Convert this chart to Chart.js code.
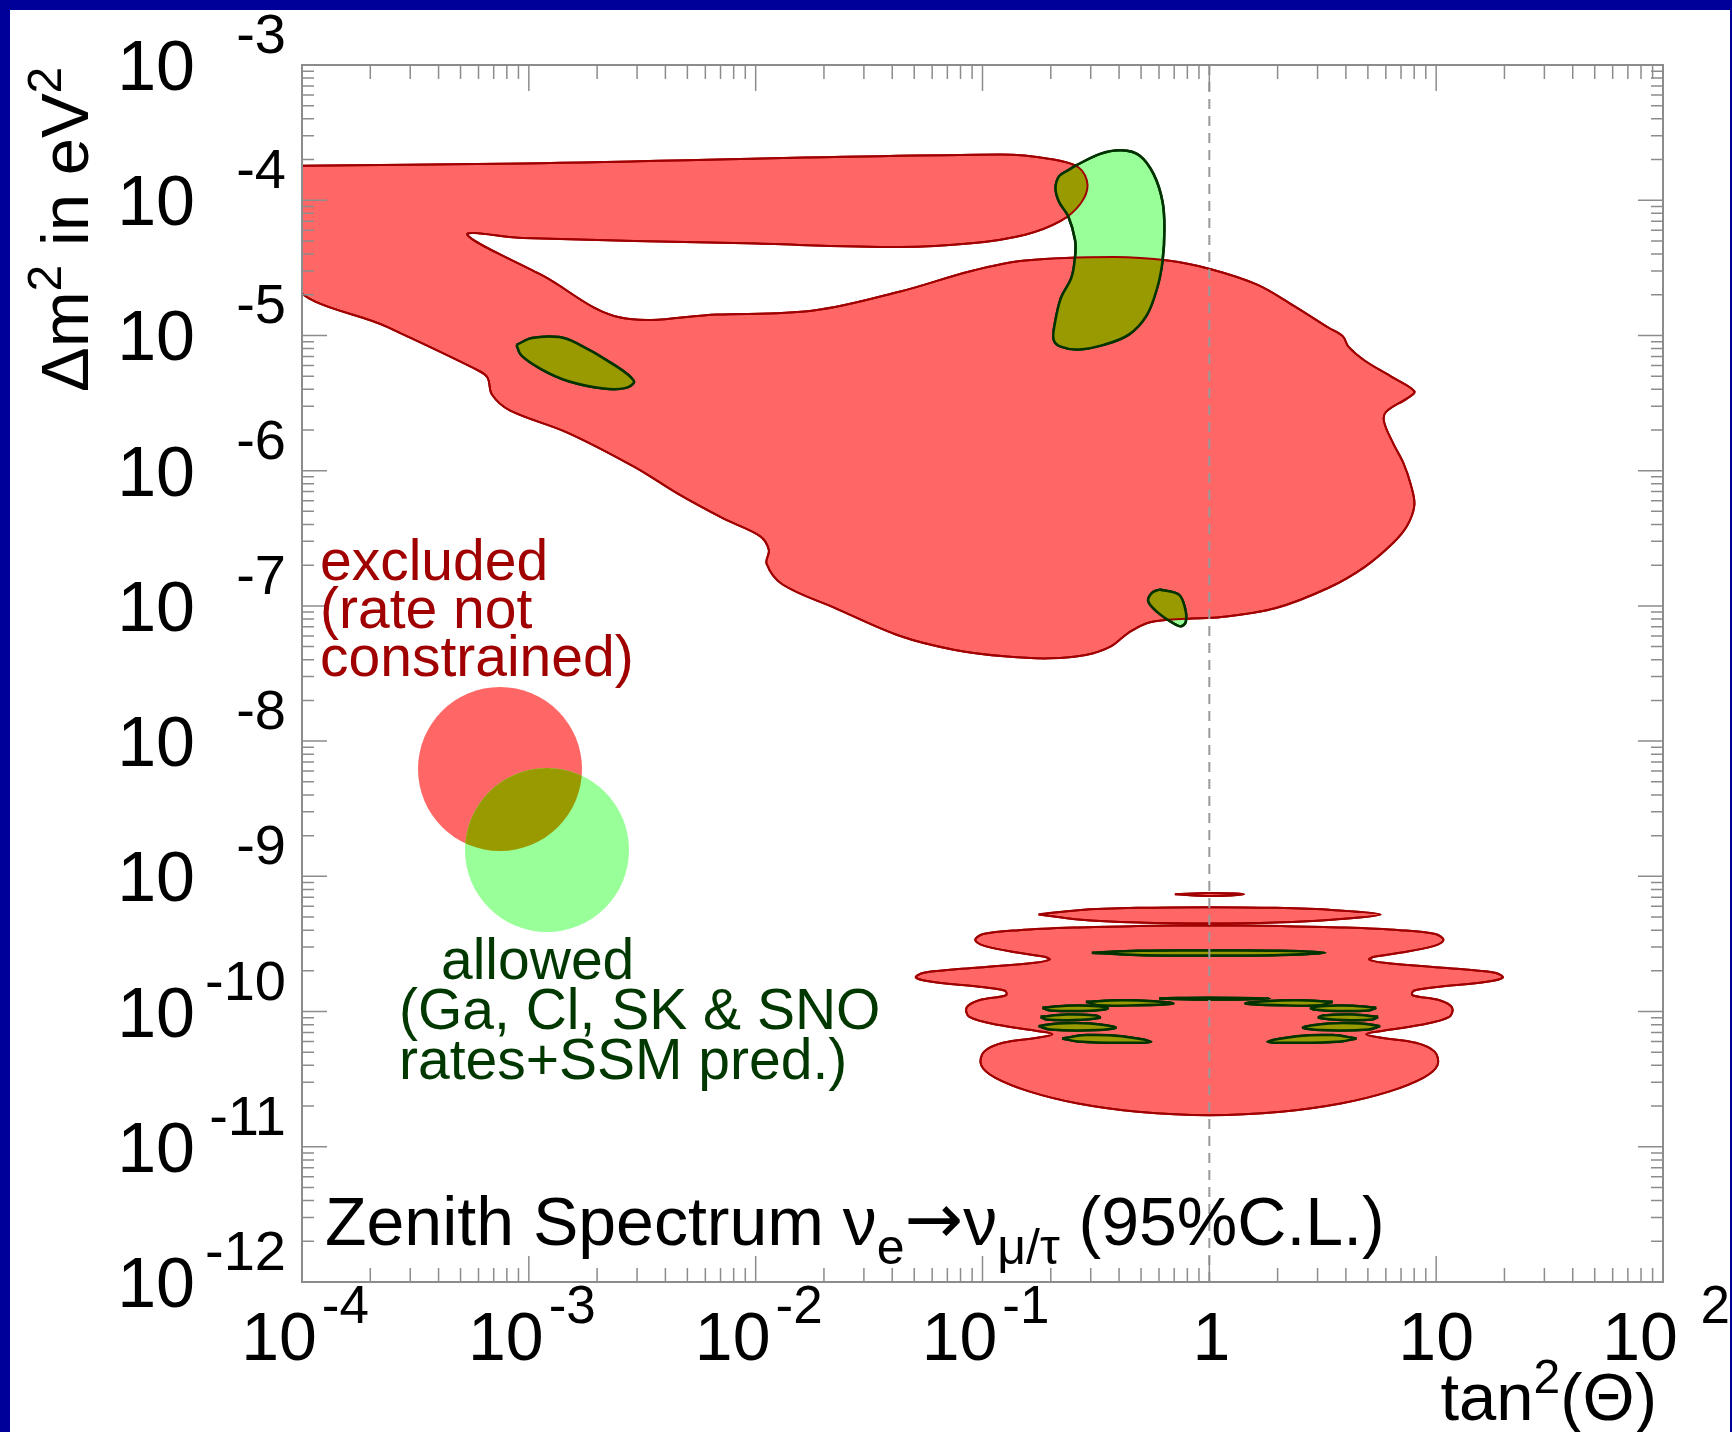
<!DOCTYPE html>
<html>
<head>
<meta charset="utf-8">
<script src="https://cdn.jsdelivr.net/npm/chart.js@4.4.1/dist/chart.umd.min.js"></script>
<style>
  html, body { margin: 0; padding: 0; background: #000099; }
  #wrap { position: absolute; left: 0; top: 0; width: 1732px; height: 1432px; }
</style>
</head>
<body>
<div id="wrap"><canvas id="c" width="1732" height="1432"></canvas></div>
<script>
/* ===== Data (log10 tan^2, log10 dm^2) ===== */

const xDecades = [-4, -3, -2, -1, 0, 1, 2];
const yDecades = [-12, -11, -10, -9, -8, -7, -6, -5, -4, -3];
const xTickText = [['10', '-4'], ['10', '-3'], ['10', '-2'], ['10', '-1'], ['1', ''], ['10', ''], ['10', '2']];
const yTickText = ['-12', '-11', '-10', '-9', '-8', '-7', '-6', '-5', '-4', '-3'];

// excluded (red) contours
const exclMain = [
  [-4.05,-3.746],[-3.026,-3.728],[-0.922,-3.662],[-0.702,-3.695],[-0.576,-3.758],[-0.537,-3.886],
  [-0.568,-4.026],[-0.655,-4.153],[-0.812,-4.255],[-1.049,-4.319],[-1.363,-4.346],[-2.042,-4.319],
  [-3.026,-4.280],[-3.271,-4.255],[-2.936,-4.560],[-2.601,-4.866],[-2.170,-4.845],[-1.745,-4.816],
  [-1.363,-4.675],[-1.049,-4.523],[-0.812,-4.446],[-0.420,-4.420],[-0.182,-4.446],[0.007,-4.510],
  [0.211,-4.624],[0.369,-4.777],[0.526,-4.943],[0.589,-5.007],[0.613,-5.083],[0.684,-5.185],
  [0.810,-5.312],[0.904,-5.414],[0.872,-5.465],[0.778,-5.567],[0.771,-5.643],[0.810,-5.796],
  [0.857,-5.949],[0.888,-6.102],[0.904,-6.254],[0.872,-6.408],[0.810,-6.535],[0.684,-6.713],
  [0.526,-6.866],[0.290,-7.018],[0.054,-7.083],[-0.104,-7.095],[-0.261,-7.121],[-0.355,-7.197],
  [-0.434,-7.299],[-0.545,-7.363],[-0.702,-7.388],[-0.892,-7.375],[-1.127,-7.324],[-1.363,-7.223],
  [-1.647,-7.018],[-1.883,-6.840],[-1.952,-6.688],[-1.942,-6.586],[-1.981,-6.484],[-2.139,-6.357],
  [-2.336,-6.178],[-2.533,-5.974],[-2.828,-5.720],[-3.084,-5.554],[-3.162,-5.439],[-3.182,-5.312],
  [-3.221,-5.261],[-3.620,-4.940],[-4.050,-4.600],[-4.05,-3.746]
];
const exclSliver = [[-0.152,-9.133],[0,-9.124],[0.153,-9.133],[0,-9.146],[-0.152,-9.133]];
const exclBand = [
  [-0.753,-9.282],[-0.579,-9.250],[-0.317,-9.233],[0,-9.228],[0.293,-9.233],[0.554,-9.250],
  [0.755,-9.282],[0.554,-9.319],[0.293,-9.341],[0,-9.348],[-0.317,-9.341],[-0.579,-9.319],[-0.753,-9.282]
];
const exclWavy = [
  [0,-9.361],[-0.317,-9.368],[-0.579,-9.378],[-0.840,-9.398],[-0.997,-9.427],[-1.032,-9.472],
  [-0.988,-9.516],[-0.840,-9.565],[-0.727,-9.595],[-0.704,-9.615],[-0.771,-9.639],[-1.015,-9.674],
  [-1.259,-9.713],[-1.294,-9.748],[-1.224,-9.780],[-1.015,-9.817],[-0.901,-9.846],[-0.896,-9.879],
  [-1.015,-9.916],[-1.070,-9.970],[-1.058,-10.039],[-0.927,-10.100],[-0.753,-10.145],[-0.692,-10.167],
  [-0.753,-10.192],[-0.910,-10.231],[-0.994,-10.298],[-1.006,-10.396],[-0.945,-10.488],[-0.788,-10.594],
  [-0.579,-10.680],[-0.317,-10.741],[0,-10.766],[0.317,-10.741],[0.579,-10.680],[0.788,-10.594],
  [0.945,-10.488],[1.006,-10.396],[0.994,-10.298],[0.910,-10.231],[0.753,-10.192],[0.692,-10.167],
  [0.753,-10.145],[0.927,-10.100],[1.058,-10.039],[1.070,-9.970],[1.015,-9.916],[0.896,-9.879],
  [0.901,-9.846],[1.015,-9.817],[1.224,-9.780],[1.294,-9.748],[1.259,-9.713],[1.015,-9.674],
  [0.771,-9.639],[0.704,-9.615],[0.727,-9.595],[0.840,-9.565],[0.988,-9.516],[1.032,-9.472],
  [0.997,-9.427],[0.840,-9.398],[0.579,-9.378],[0.317,-9.368],[0,-9.361]
];

// allowed (green) contours
const allowBig = [
  [-0.592,-3.746],[-0.481,-3.657],[-0.387,-3.631],[-0.308,-3.669],[-0.245,-3.809],[-0.206,-4.013],
  [-0.198,-4.217],[-0.206,-4.446],[-0.230,-4.649],[-0.277,-4.854],[-0.355,-4.994],[-0.466,-5.070],
  [-0.576,-5.104],[-0.655,-5.083],[-0.686,-5.032],[-0.683,-4.930],[-0.655,-4.726],[-0.608,-4.573],
  [-0.592,-4.420],[-0.592,-4.294],[-0.623,-4.115],[-0.662,-4.013],[-0.678,-3.911],[-0.662,-3.822],
  [-0.623,-3.779],[-0.592,-3.746]
];
const allowLow = [
  [-3.054,-5.070],[-2.986,-5.019],[-2.867,-5.012],[-2.788,-5.058],[-2.631,-5.210],[-2.537,-5.337],
  [-2.572,-5.388],[-2.670,-5.393],[-2.828,-5.337],[-2.946,-5.249],[-3.034,-5.146],[-3.054,-5.070]
];
const allowSmall = [
  [-0.221,-6.879],[-0.135,-6.916],[-0.107,-7.018],[-0.104,-7.120],[-0.127,-7.151],[-0.167,-7.120],
  [-0.230,-7.044],[-0.269,-6.967],[-0.253,-6.904],[-0.221,-6.879]
];
const allowBar = [
  [-0.518,-9.565],[-0.317,-9.550],[0,-9.548],[0.310,-9.550],[0.511,-9.565],[0.310,-9.582],
  [0,-9.586],[-0.317,-9.582],[-0.518,-9.565]
];
const allowArchMid = [[-0.221,-9.903],[0,-9.897],[0.267,-9.903],[0,-9.911],[-0.221,-9.903]];
const allowArchL1 = [[-0.544,-9.928],[-0.387,-9.916],[-0.248,-9.923],[-0.160,-9.940],[-0.317,-9.953],[-0.492,-9.953],[-0.544,-9.928]];
const allowArchL2 = [[-0.736,-9.972],[-0.631,-9.957],[-0.492,-9.960],[-0.448,-9.977],[-0.526,-9.994],[-0.701,-9.992],[-0.736,-9.972]];
const allowArchL3 = [[-0.744,-10.039],[-0.631,-10.022],[-0.500,-10.029],[-0.483,-10.046],[-0.596,-10.063],[-0.718,-10.059],[-0.744,-10.039]];
const allowArchL4 = [[-0.753,-10.108],[-0.666,-10.088],[-0.526,-10.088],[-0.413,-10.118],[-0.492,-10.137],[-0.701,-10.133],[-0.753,-10.108]];
const allowArchL5 = [[-0.649,-10.199],[-0.544,-10.174],[-0.387,-10.182],[-0.256,-10.224],[-0.387,-10.231],[-0.579,-10.221],[-0.649,-10.199]];
const allowArchR1 = [[0.544,-9.928],[0.387,-9.916],[0.248,-9.923],[0.160,-9.940],[0.317,-9.953],[0.492,-9.953],[0.544,-9.928]];
const allowArchR2 = [[0.736,-9.972],[0.631,-9.957],[0.492,-9.960],[0.448,-9.977],[0.526,-9.994],[0.701,-9.992],[0.736,-9.972]];
const allowArchR3 = [[0.744,-10.039],[0.631,-10.022],[0.500,-10.029],[0.483,-10.046],[0.596,-10.063],[0.718,-10.059],[0.744,-10.039]];
const allowArchR4 = [[0.753,-10.108],[0.666,-10.088],[0.526,-10.088],[0.413,-10.118],[0.492,-10.137],[0.701,-10.133],[0.753,-10.108]];
const allowArchR5 = [[0.649,-10.199],[0.544,-10.174],[0.387,-10.182],[0.256,-10.224],[0.387,-10.231],[0.579,-10.221],[0.649,-10.199]];

const excludedSets = [exclMain, exclSliver, exclBand, exclWavy];
const allowedSets = [allowBig, allowLow, allowSmall, allowBar, allowArchMid,
  allowArchL1, allowArchL2, allowArchL3, allowArchL4, allowArchL5,
  allowArchR1, allowArchR2, allowArchR3, allowArchR4, allowArchR5];

/* ===== Style ===== */
const RED_FILL = '#ff6666', RED_LINE = '#a00000';
const GREEN_FILL = '#99ff99', GREEN_LINE = '#003300';
const OLIVE = '#999900';
const AXIS_GRAY = '#8c8c8c';
const FONT = '"Liberation Sans", Arial, sans-serif';
const ARROW_FONT = '"DejaVu Sans", sans-serif';

function contourSet(pts, fillColor, lineColor, width, order) {
  return {
    data: pts.map(([x, y]) => ({ x, y })),
    fill: 'shape',
    backgroundColor: fillColor,
    borderColor: lineColor,
    borderWidth: width,
    pointRadius: 0,
    tension: 0.35,
    order
  };
}

const datasets = [
  ...excludedSets.map(p => contourSet(p, RED_FILL, RED_LINE, 2, 1)),
  ...allowedSets.map(p => contourSet(p, GREEN_FILL, GREEN_LINE, 2.5, 0))
];
const redIdx = excludedSets.map((_, i) => i);
const greenIdx = allowedSets.map((_, i) => i + excludedSets.length);

function font(size, family) { return `${size}px ${family || FONT}`; }

// runs: [text, size, dy, family]
function drawRuns(ctx, x, y, runs) {
  runs.forEach(([t, size, dy, fam]) => {
    ctx.font = font(size, fam);
    ctx.fillText(t, x, y + dy);
    x += ctx.measureText(t).width;
  });
  return x;
}
function runsWidth(ctx, runs) {
  return runs.reduce((w, [t, size, dy, fam]) => { ctx.font = font(size, fam); return w + ctx.measureText(t).width; }, 0);
}

function linePath(chart, idxs) {
  const ctx = chart.ctx;
  ctx.beginPath();
  idxs.forEach(i => chart.getDatasetMeta(i).dataset.path(ctx));
}

const panelPlugin = {
  id: 'panel',
  beforeDraw(chart) {
    const ctx = chart.ctx;
    ctx.save();
    ctx.fillStyle = '#000099';
    ctx.fillRect(0, 0, chart.width, chart.height);
    ctx.fillStyle = '#ffffff';
    ctx.fillRect(10, 10, chart.width - 12, chart.height - 10);
    ctx.restore();
  },
  afterDatasetsDraw(chart) {
    const { ctx, chartArea: a, scales: { x, y } } = chart;
    // overlap of allowed and excluded
    ctx.save();
    ctx.beginPath(); ctx.rect(a.left, a.top, a.width, a.height); ctx.clip();
    linePath(chart, redIdx); ctx.clip();
    ctx.fillStyle = OLIVE;
    greenIdx.forEach(i => { linePath(chart, [i]); ctx.fill(); });
    ctx.restore();
    ctx.save();
    ctx.beginPath(); ctx.rect(a.left, a.top, a.width, a.height); ctx.clip();
    redIdx.concat(greenIdx).forEach(i => chart.getDatasetMeta(i).dataset.draw(ctx, a));
    ctx.restore();

    // dashed line at tan^2 = 1
    ctx.save();
    ctx.strokeStyle = '#9a9a9a';
    ctx.lineWidth = 2;
    ctx.setLineDash([10, 7]);
    const px1 = x.getPixelForValue(0);
    ctx.beginPath(); ctx.moveTo(px1, a.top); ctx.lineTo(px1, a.bottom); ctx.stroke();
    ctx.restore();

    // frame and ticks
    ctx.save();
    ctx.strokeStyle = AXIS_GRAY;
    ctx.lineWidth = 1.5;
    ctx.beginPath();
    xDecades.forEach((n, i) => {
      const p = x.getPixelForValue(n);
      ctx.moveTo(p, a.bottom); ctx.lineTo(p, a.bottom - 26);
      ctx.moveTo(p, a.top); ctx.lineTo(p, a.top + 26);
      if (i < xDecades.length - 1) {
        for (let k = 2; k <= 9; k++) {
          const q = x.getPixelForValue(n + Math.log10(k));
          ctx.moveTo(q, a.bottom); ctx.lineTo(q, a.bottom - 14);
          ctx.moveTo(q, a.top); ctx.lineTo(q, a.top + 14);
        }
      }
    });
    yDecades.forEach((n, i) => {
      const p = y.getPixelForValue(n);
      ctx.moveTo(a.left, p); ctx.lineTo(a.left + 25, p);
      ctx.moveTo(a.right, p); ctx.lineTo(a.right - 25, p);
      if (i < yDecades.length - 1) {
        for (let k = 2; k <= 9; k++) {
          const q = y.getPixelForValue(n + Math.log10(k));
          ctx.moveTo(a.left, q); ctx.lineTo(a.left + 12, q);
          ctx.moveTo(a.right, q); ctx.lineTo(a.right - 12, q);
        }
      }
    });
    ctx.stroke();
    ctx.lineWidth = 2;
    ctx.strokeRect(a.left, a.top, a.width, a.height);
    ctx.restore();
  },
  afterDraw(chart) {
    const { ctx, scales: { x, y } } = chart;
    ctx.save();
    ctx.fillStyle = '#000';
    ctx.textBaseline = 'alphabetic';

    // x tick labels
    xDecades.forEach((n, i) => {
      const p = x.getPixelForValue(n);
      const [base, exp] = xTickText[i];
      ctx.font = font(68);
      ctx.textAlign = 'center';
      if (!exp) {
        ctx.fillText(base, p + (base === '1' ? 2 : 0), 1360);
      } else {
        ctx.fillText(base, p - 23, 1360);
        ctx.font = font(53);
        ctx.textAlign = 'right';
        ctx.fillText(exp, p + 67, 1323);
      }
    });
    // y tick labels
    yDecades.forEach((n, i) => {
      const p = y.getPixelForValue(n);
      ctx.font = font(70);
      ctx.textAlign = 'right';
      ctx.fillText('10', 195, p + 25);
      ctx.font = font(56);
      ctx.fillText(yTickText[i], 286, p - 12);
    });

    ctx.textAlign = 'left';
    // x axis title
    const xt = [['tan', 67, 0], ['2', 48, -27], ['(Θ)', 67, 0]];
    drawRuns(ctx, 1657 - runsWidth(ctx, xt), 1420, xt);
    // y axis title
    ctx.save();
    ctx.translate(88, 392);
    ctx.rotate(-Math.PI / 2);
    drawRuns(ctx, 0, 0, [['Δm', 67, 0], ['2', 48, -27], [' in eV', 67, 0], ['2', 48, -27]]);
    ctx.restore();

    // plot caption
    drawRuns(ctx, 325, 1245, [
      ['Zenith Spectrum ', 68, 0], ['ν', 68, 0], ['e', 50, 19], ['→', 70, -2, ARROW_FONT],
      ['ν', 68, 0], ['μ/τ', 50, 19], [' (95%C.L.)', 68, 0]
    ]);

    // legend swatches
    const red = { cx: 500, cy: 769, r: 82 }, green = { cx: 547, cy: 850, r: 82 };
    ctx.fillStyle = RED_FILL;
    ctx.beginPath(); ctx.arc(red.cx, red.cy, red.r, 0, Math.PI * 2); ctx.fill();
    ctx.fillStyle = GREEN_FILL;
    ctx.beginPath(); ctx.arc(green.cx, green.cy, green.r, 0, Math.PI * 2); ctx.fill();
    ctx.save();
    ctx.beginPath(); ctx.arc(red.cx, red.cy, red.r, 0, Math.PI * 2); ctx.clip();
    ctx.fillStyle = OLIVE;
    ctx.beginPath(); ctx.arc(green.cx, green.cy, green.r, 0, Math.PI * 2); ctx.fill();
    ctx.restore();

    // legend text
    ctx.font = font(57);
    ctx.fillStyle = '#a00000';
    ctx.fillText('excluded', 320, 580);
    ctx.fillText('(rate not', 320, 628);
    ctx.fillText('constrained)', 320, 676);
    ctx.fillStyle = '#003800';
    ctx.fillText('allowed', 441, 979);
    ctx.fillText('(Ga, Cl, SK & SNO', 399, 1029);
    ctx.fillText('rates+SSM pred.)', 399, 1079);
    ctx.restore();
  }
};

new Chart(document.getElementById('c'), {
  type: 'line',
  data: { datasets },
  options: {
    responsive: false,
    animation: false,
    events: [],
    layout: { padding: { left: 302, right: 69, top: 65, bottom: 150 } },
    scales: {
      x: { type: 'linear', min: -4, max: 2, display: false },
      y: { type: 'linear', min: -12, max: -3, display: false }
    },
    plugins: { legend: { display: false }, tooltip: { enabled: false } }
  },
  plugins: [panelPlugin]
});
</script>
</body>
</html>
